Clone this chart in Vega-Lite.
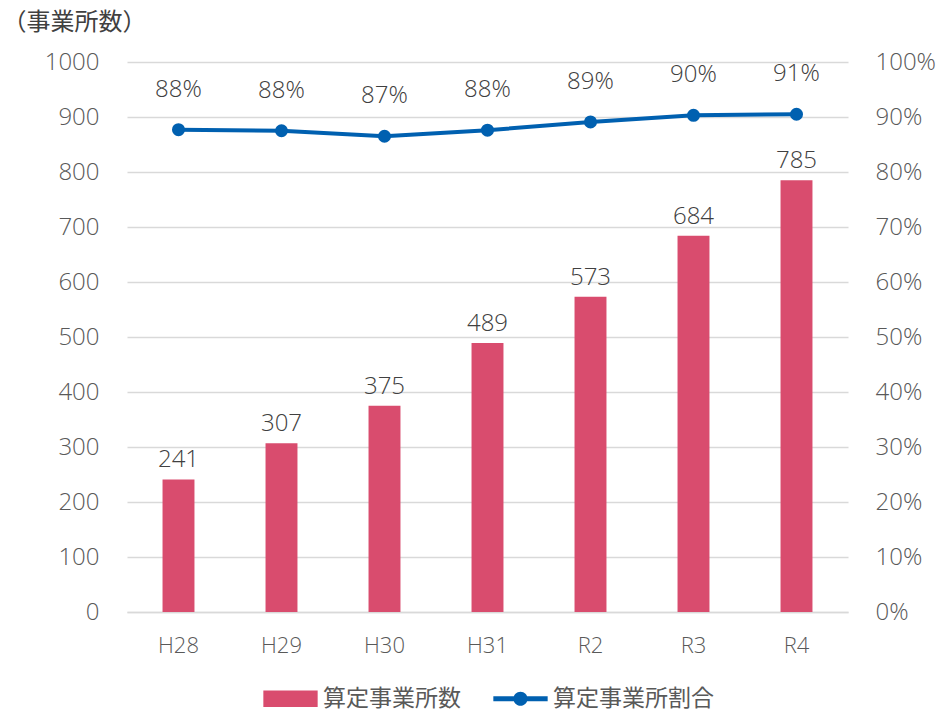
{
  "$schema": "https://vega.github.io/schema/vega-lite/v6.json",
  "width": 721,
  "height": 550,
  "autosize": {"type": "none"},
  "padding": {"left": 127, "top": 62, "right": 95, "bottom": 99},
  "background": "white",
  "config": {
    "view": {"stroke": null},
    "font": "Open Sans",
    "axis": {"labelColor": "#595959", "labelFontSize": 24, "ticks": false, "domain": false, "labelFont": "Open Sans", "labelFontWeight": 300}
  },
  "data": {
    "values": [
      {"year": "H28", "count": 241, "ratio": 0.877, "ratioLabel": "88%"},
      {"year": "H29", "count": 307, "ratio": 0.875, "ratioLabel": "88%"},
      {"year": "H30", "count": 375, "ratio": 0.865, "ratioLabel": "87%"},
      {"year": "H31", "count": 489, "ratio": 0.876, "ratioLabel": "88%"},
      {"year": "R2", "count": 573, "ratio": 0.891, "ratioLabel": "89%"},
      {"year": "R3", "count": 684, "ratio": 0.903, "ratioLabel": "90%"},
      {"year": "R4", "count": 785, "ratio": 0.905, "ratioLabel": "91%"}
    ]
  },
  "encoding": {
    "x": {
      "field": "year", "type": "ordinal", "sort": null,
      "scale": {"paddingInner": 0.69, "paddingOuter": 0.345},
      "axis": {"title": null, "labelAngle": 0, "labelFontSize": 22, "labelPadding": 23, "domain": true, "domainColor": "#D9D9D9", "domainWidth": 1.5}
    }
  },
  "layer": [
    {
      "encoding": {
        "y": {
          "field": "count", "type": "quantitative",
          "scale": {"domain": [0, 1000]},
          "axis": {
            "orient": "left", "format": "d", "values": [0,100,200,300,400,500,600,700,800,900,1000],
            "grid": true, "gridColor": "#D9D9D9", "gridWidth": 1.5, "labelPadding": 28,
            "title": "（事業所数）", "titleAngle": 0, "titleAlign": "left", "titleBaseline": "middle",
            "titleX": -125, "titleY": -40, "titleFontSize": 24, "titleFontWeight": "normal", "titleColor": "#404040",
            "titleFont": "Noto Sans CJK JP"
          }
        }
      },
      "layer": [
        {
          "mark": {"type": "bar", "color": "#D94C6E"},
          "encoding": {
            "color": {
              "datum": "算定事業所数", "type": "nominal",
              "scale": {"domain": ["算定事業所数", "算定事業所割合"], "range": ["#D94C6E", "#0060B0"]},
              "legend": {
                "title": null, "orient": "none", "legendX": 136, "legendY": 609, "direction": "horizontal",
                "labelFontSize": 23, "labelFont": "Noto Sans CJK JP", "labelColor": "#595959", "labelOffset": 5, "columnPadding": 32,
                "labelLimit": 400,
                "symbolSize": 2950, "symbolStrokeWidth": 0,
                "encode": {
                  "symbols": {
                    "update": {
                      "shape": {"signal": "datum.value === '算定事業所数' ? 'M-1,-0.3H1V0.3H-1Z' : 'M-1,-0.09H1V0.09H-1Z M0.26,0A0.26,0.26 0 1,1 -0.26,0A0.26,0.26 0 1,1 0.26,0Z'"},
                      "fill": {"signal": "datum.value === '算定事業所数' ? '#D94C6E' : '#0060B0'"},
                      "fillOpacity": {"value": 1},
                      "opacity": {"value": 1},
                      "strokeWidth": {"value": 0}
                    }
                  }
                }
              }
            }
          }
        },
        {
          "mark": {"type": "text", "baseline": "bottom", "dy": -7, "fontSize": 24, "color": "#404040", "fontWeight": 300},
          "encoding": {"text": {"field": "count", "type": "quantitative"}}
        }
      ]
    },
    {
      "encoding": {
        "y": {
          "field": "ratio", "type": "quantitative",
          "scale": {"domain": [0, 1]},
          "axis": {"orient": "right", "format": ".0%", "values": [0,0.1,0.2,0.3,0.4,0.5,0.6,0.7,0.8,0.9,1], "grid": false, "labelPadding": 27, "title": null}
        }
      },
      "layer": [
        {
          "mark": {"type": "line", "strokeWidth": 4, "point": {"size": 170, "filled": true}},
          "encoding": {"color": {"datum": "算定事業所割合", "type": "nominal"}}
        },
        {
          "mark": {"type": "text", "baseline": "middle", "dy": -40, "fontSize": 24, "color": "#404040", "fontWeight": 300},
          "encoding": {"text": {"field": "ratioLabel", "type": "nominal"}}
        }
      ]
    }
  ],
  "resolve": {"scale": {"y": "independent"}}
}
